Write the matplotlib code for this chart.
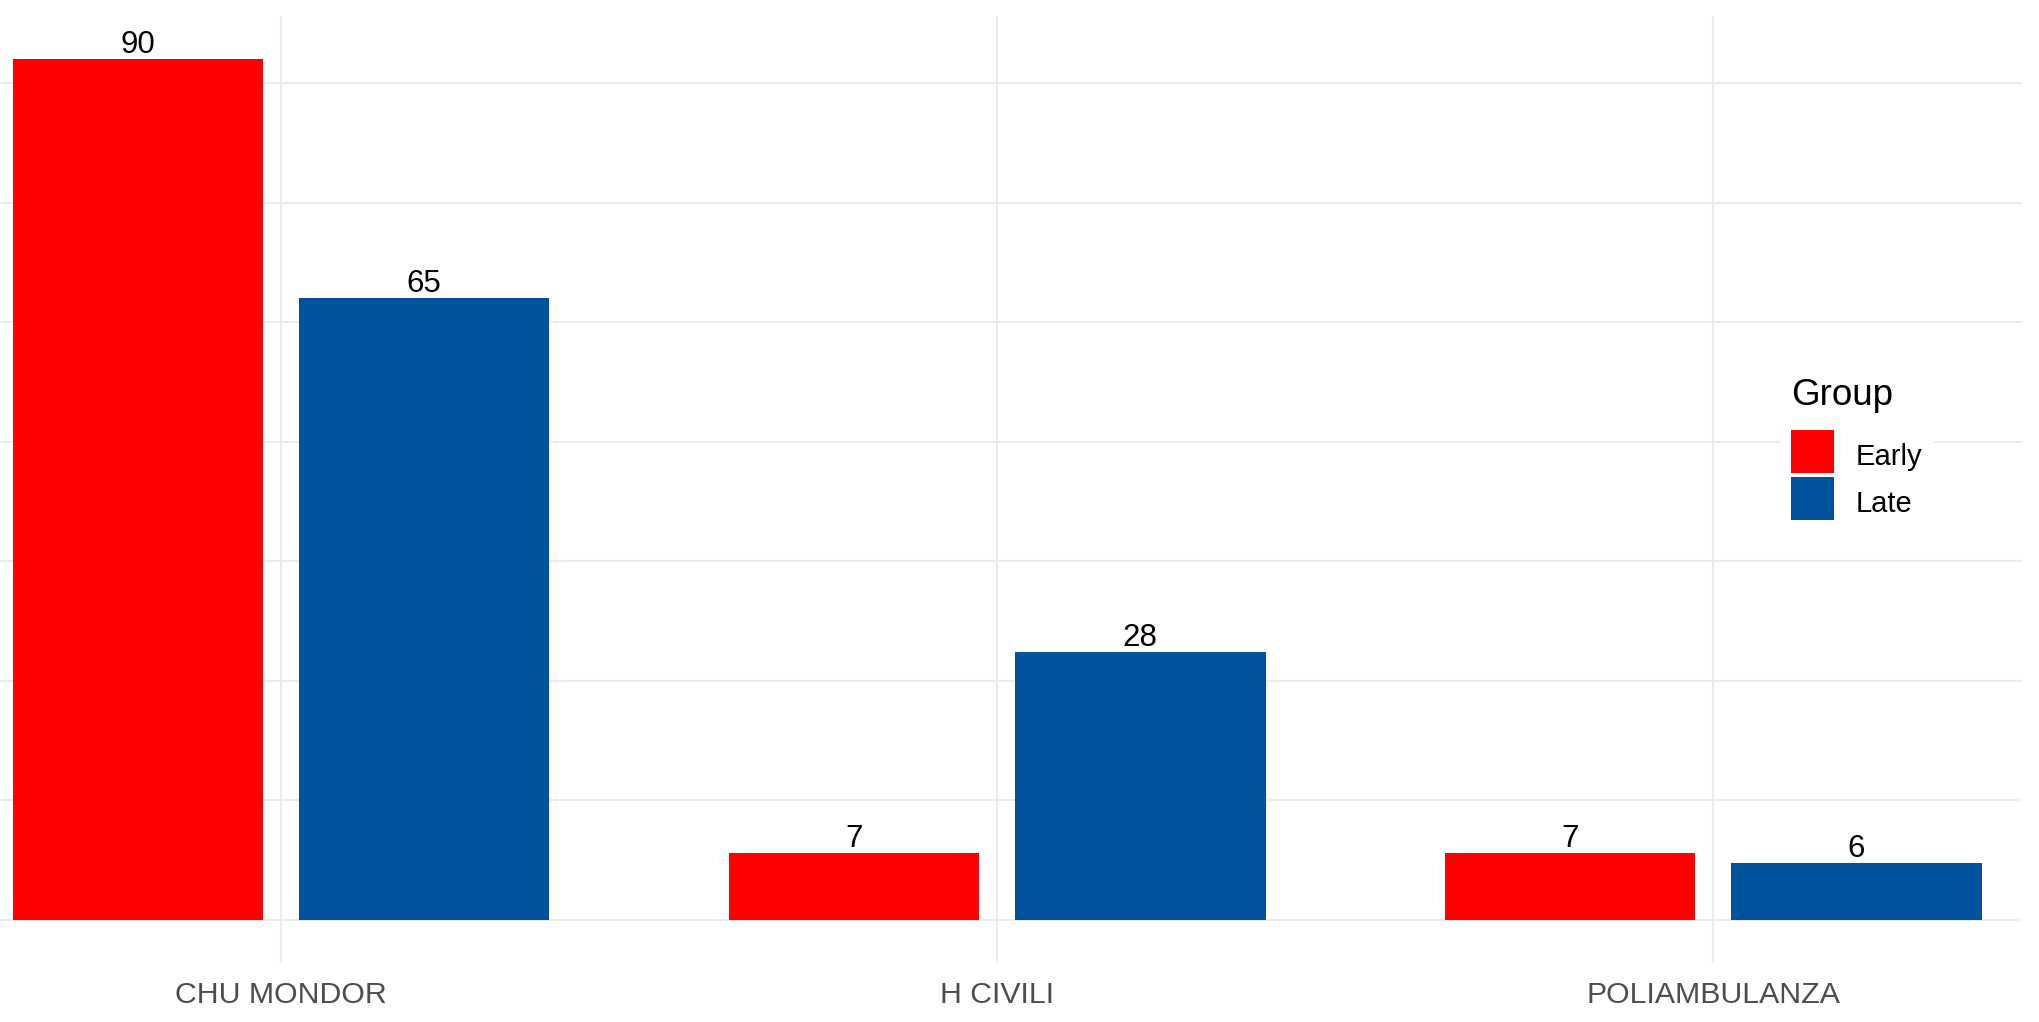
import numpy as np
import matplotlib
matplotlib.use('Agg')
import matplotlib.pyplot as plt
from matplotlib.patches import Rectangle
from matplotlib.legend_handler import HandlerPatch
from matplotlib.container import BarContainer

plt.rcParams['font.family'] = ['Liberation Sans', 'DejaVu Sans']

# data
sites = ['CHU MONDOR', 'H CIVILI', 'POLIAMBULANZA']
early = [90, 7, 7]
late = [65, 28, 6]
groups = ['Early', 'Late']
colors = ['#FF0000', '#01549B']

W, H = 2039, 1022
fig = plt.figure(figsize=(W / 100, H / 100), dpi=100)
ax = fig.add_axes([0, 1 - 963 / H, 2022 / W, (963 - 16) / H])

x = np.arange(1, len(sites) + 1)
width = 0.35
offset = 0.2

# grid first so bars sit on top
for yv in np.arange(0, 90, 12.5):
    ax.axhline(yv, color='#EBEBEB', lw=1.5, zorder=0)
for xv in x:
    ax.axvline(xv, color='#EBEBEB', lw=1.5, zorder=0)

for vals, grp, col, sgn in zip([early, late], groups, colors, [-1, 1]):
    bars = ax.bar(x + sgn * offset, vals, width=width, color=col,
                  label=grp, zorder=2, linewidth=0)
    for b, v in zip(bars, vals):
        ax.annotate(str(v), (b.get_x() + b.get_width() / 2, v),
                    xytext=(0, 4.2), textcoords='offset points',
                    ha='center', va='baseline', fontsize=22.5, color='black')

ax.set_xlim(1 - 281 / 716, 3 + 309 / 716)
ax.set_ylim(-4.5, 94.5)
ax.set_xticks(x)
ax.set_xticklabels(sites, fontsize=21.8, color='#4D4D4D')
ax.set_yticks([])
ax.tick_params(axis='x', length=0, pad=13)
for s in ax.spines.values():
    s.set_visible(False)


def key_rect(legend, orig_handle, xdescent, ydescent, width, height, fontsize):
    # lift the key a bit so the label sits lower against it
    return Rectangle((-xdescent, -ydescent + 3), width, height)


def key_style(handle, orig):
    handle.update_from(orig.patches[0])


leg = ax.legend(title='Group', loc='upper left',
                bbox_to_anchor=(1780 / W, 1 - 367 / H),
                bbox_transform=fig.transFigure, borderaxespad=0,
                fontsize=21, title_fontsize=26.5, alignment='left',
                handlelength=1.474, handleheight=1.891,
                handletextpad=0.75, labelspacing=0.12, borderpad=0.38,
                frameon=True, fancybox=False, facecolor='white',
                edgecolor='none', framealpha=1,
                handler_map={BarContainer: HandlerPatch(patch_func=key_rect,
                                                        update_func=key_style)})
leg._legend_box.sep = 15.5

fig.savefig('out.png', dpi=100, facecolor='white')
